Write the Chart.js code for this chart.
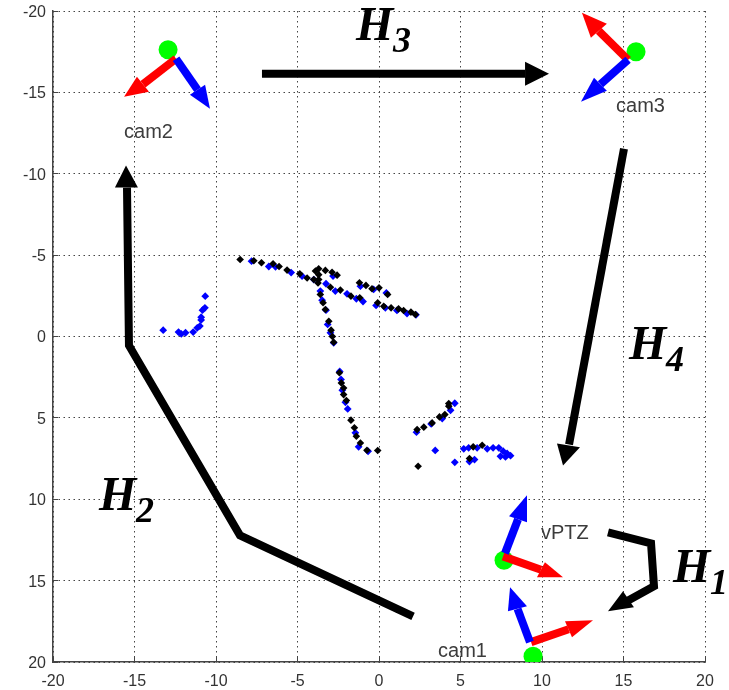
<!DOCTYPE html>
<html>
<head>
<meta charset="utf-8">
<style>html,body{margin:0;padding:0;background:#fff}canvas{display:block}</style>
<script src="https://cdn.jsdelivr.net/npm/chart.js@4"></script>
</head>
<body>
<canvas id="c" width="729" height="690"></canvas>
<script>
// Scene points in world units (x, y)
const bluePoints = [[-10.66,-2.48],[-10.68,-1.76],[-10.83,-1.62],[-10.91,-1.19],[-10.91,-1.02],[-10.99,-0.64],[-11.15,-0.53],[-11.4,-0.27],[-11.87,-0.23],[-12.13,-0.16],[-12.3,-0.27],[-13.24,-0.39],
[-7.82,-4.63],[-6.76,-4.3],[-6.35,-4.28],[-5.39,-3.93],[-4.72,-3.71],[-4,-3.5],[-3.6,-2.79],[-3.25,-3.24],[-2.68,-2.79],[-1.96,-2.62],[-1.39,-2.32],[-0.98,-2.15],[-2.82,-3.71],[-1.14,-3.09],[-0.33,-2.89],[0.45,-2.68],[-0.18,-1.91],[0.39,-1.76],[1.1,-1.6],[1.72,-1.41],[2.27,-1.33],
[-3.49,-2.23],[-3.25,-1.62],[-3.15,-0.74],[-2.98,-0.23],[-2.78,0.39],[-2.41,2.15],[-2.33,2.64],[-2.25,3.3],[-2.06,4.04],[-1.92,4.45],[-1.45,5.92],[-1.25,6.78],[-0.67,7.05],
[2.3,5.88],[3.2,5.37],[3.88,5.04],[4.39,4.53],[4.65,4.1],[3.45,7],[4.65,7.73],[5.55,7.68],[5.86,7.56],[5.2,6.9],[5.5,6.84],[6.02,6.84],[6.64,6.9],[7,6.84],[7.35,6.84],[7.62,7.05],[7.86,7.19],[8.07,7.32],[7.45,7.36],[7.76,7.4]];
const blackPoints = [[-8.52,-4.73],[-7.68,-4.65],[-7.21,-4.53],[-6.5,-4.47],[-6.13,-4.3],[-5.64,-4.08],[-4.86,-3.85],[-4.41,-3.59],[-4,-3.5],[-3.7,-4.16],[-3.9,-4.02],[-3.29,-4.06],[-2.57,-3.77],[-2.88,-3.95],[-3.7,-3.8],[-3.7,-3.5],[-3.74,-3.29],
[-2.98,-3.03],[-2.37,-2.85],[-1.72,-2.48],[-1.18,-2.38],[-1.2,-3.3],[-0.8,-3.14],[-0.43,-2.93],[0,-2.99],[0.53,-2.58],[-0.08,-2.07],[0.29,-1.86],[0.74,-1.76],[1.2,-1.7],[1.51,-1.6],[1.96,-1.5],[2.23,-1.35],
[-3.6,-2.58],[-3.43,-2.07],[-3.29,-1.66],[-3.08,-0.94],[-2.94,-0.39],[-2.86,0],[-2.78,0.35],
[-2.43,2.23],[-2.31,2.85],[-2.17,3.16],[-2.17,3.57],[-2,3.93],[-1.72,5.14],[-1.51,5.61],[-1.39,6.13],[-1.14,6.54],[-0.74,6.99],[-0.08,7],
[2.34,5.72],[2.75,5.57],[3.26,5.31],[3.71,4.94],[4.04,4.8],[4.28,4.28],[4.28,4.12],[5.55,7.5],[5.78,6.78],[6.33,6.68],[2.4,7.97]];

// Camera centres
const cameraCentres = [[-12.94,-17.62],[15.77,-17.5],[7.67,13.75],[9.45,19.64]];

// Axis shafts: tail, head base
const redShafts = [[[-12.45,-17.07],[-14.48,-15.5]],[[15.28,-17],[13.48,-18.78]],[[7.61,13.51],[9.94,14.33]],[[9.33,18.78],[11.63,17.99]]];
const blueShafts = [[[-12.45,-17.07],[-11.13,-15.16]],[[15.28,-17],[13.59,-15.5]],[[7.73,13.32],[8.53,11.23]],[[9.26,18.78],[8.5,16.73]]];
// Axis heads: tip, corner, corner
const redHeads = [[[-15.64,-14.73],[-14.85,-15.96],[-14.11,-15.04]],[[12.45,-19.89],[13,-18.35],[13.98,-19.21]],[[11.29,14.79],[10.18,13.87],[9.69,14.79]],[[13.13,17.43],[11.41,17.5],[11.84,18.48]]];
const blueHeads = [[[-10.37,-14],[-11.6,-14.86],[-10.67,-15.47]],[[12.39,-14.43],[13.19,-15.9],[13.98,-15.1]],[[9.08,9.76],[7.98,11.05],[9.08,11.42]],[[8.04,15.41],[7.91,16.88],[9.08,16.57]]];

// Homography arrows
const transferPaths = [
  [[-7.18,-16.14],[8.96,-16.14]],
  [[15.03,-11.54],[11.66,6.63]],
  [[2.09,17.19],[-8.53,12.22],[-15.34,0.55],[-15.46,-9.15]],
  [[14.05,12.03],[16.69,12.71],[16.87,15.35],[15.09,16.33]]
];
const transferHeads = [
  [[10.43,-16.14],[8.96,-16.88],[8.96,-15.41]],
  [[11.29,7.92],[10.92,6.57],[12.33,6.81]],
  [[-15.52,-10.5],[-16.2,-9.15],[-14.79,-9.15]],
  [[14.05,16.88],[14.97,15.65],[15.64,16.64]]
];

const cameraNames = ['cam2','cam3','vPTZ','cam1'];
const cameraNameAnchors = [[-15.64,-12.2],[14.54,-13.81],[9.94,12.46],[3.62,19.71]];
const matrixDigits = ['3','2','4','1'];
const matrixAnchors = [[-1.41,-18.2],[-17.18,10.68],[15.34,1.41],[18.04,15.1]];

const tickValues = [-20,-15,-10,-5,0,5,10,15,20];

const xy = p => ({x:p[0], y:p[1]});
const line = (pts,color,width) => ({type:'scatter',data:pts.map(xy),showLine:true,borderColor:color,borderWidth:width,pointRadius:0,borderJoinStyle:'miter',borderCapStyle:'butt',tension:0,fill:false,clip:0});
const poly = (pts,color) => ({type:'scatter',data:pts.concat([pts[0]]).map(xy),showLine:true,borderColor:color,borderWidth:0,backgroundColor:color,pointRadius:0,tension:0,fill:'shape',clip:0});

const layers = [];
layers.push({type:'scatter',data:cameraCentres.map(xy),pointStyle:'circle',pointRadius:9.5,pointBackgroundColor:'#00ff00',pointBorderWidth:0,clip:0});
redShafts.forEach(s=>layers.push(line(s,'#ff0000',8)));
redHeads.forEach(s=>layers.push(poly(s,'#ff0000')));
blueShafts.forEach(s=>layers.push(line(s,'#0000ff',8)));
blueHeads.forEach(s=>layers.push(poly(s,'#0000ff')));
layers.push({type:'scatter',data:bluePoints.map(xy),pointStyle:'rectRot',pointRadius:3.9,pointBackgroundColor:'#0000ff',pointBorderWidth:0});
layers.push({type:'scatter',data:blackPoints.map(xy),pointStyle:'rectRot',pointRadius:3.8,pointBackgroundColor:'#000000',pointBorderWidth:0});
transferPaths.forEach(s=>layers.push(line(s,'#000000',8)));
transferHeads.forEach(s=>layers.push(poly(s,'#000000')));

const textPlugin = {
  id:'sceneText',
  afterDatasetsDraw(chart){
    const {ctx,scales:{x,y}} = chart;
    ctx.save();
    ctx.textBaseline='alphabetic';
    ctx.textAlign='left';
    ctx.fillStyle='#3c3c3c';
    ctx.font='20px "Liberation Sans"';
    cameraNames.forEach((t,i)=>{
      ctx.fillText(t,x.getPixelForValue(cameraNameAnchors[i][0]),y.getPixelForValue(cameraNameAnchors[i][1]));
    });
    ctx.fillStyle='#000';
    matrixDigits.forEach((d,i)=>{
      const px=x.getPixelForValue(matrixAnchors[i][0]), py=y.getPixelForValue(matrixAnchors[i][1]);
      ctx.font='italic bold 48px "Liberation Serif"';
      ctx.fillText('H',px,py);
      ctx.font='italic bold 36px "Liberation Serif"';
      ctx.fillText(d,px+37,py+12);
    });
    ctx.restore();
  }
};

const axisOpts = (fit) => ({
  type:'linear',min:-20,max:20,
  afterBuildTicks(s){s.ticks=tickValues.map(v=>({value:v}));},
  afterFit:fit,
  grid:{color:'#444',lineWidth:1,drawTicks:true,tickLength:-5,tickColor:'#444',tickWidth:1,tickBorderDash:[]},
  border:{display:true,color:'#444',width:1.5,dash:[1.5,3.5]},
  ticks:{color:'#333',font:{family:'"Liberation Sans"',size:16},autoSkip:false,maxRotation:0,includeBounds:true}
});
const xAxis = axisOpts(s=>{s.height=28;s.paddingLeft=0;s.paddingRight=0;});
xAxis.ticks.padding=15;
const yAxis = axisOpts(s=>{s.width=53;s.paddingTop=0;s.paddingBottom=0;});
yAxis.reverse=true;
yAxis.ticks.padding=12;
yAxis.ticks.labelOffset=1.5;

new Chart(document.getElementById('c'),{
  type:'scatter',
  data:{datasets:layers.slice().reverse()},
  options:{
    responsive:false,animation:false,
    layout:{padding:{left:0,right:24,top:11,bottom:0}},
    plugins:{legend:{display:false},tooltip:{enabled:false}},
    scales:{x:xAxis,y:yAxis}
  },
  plugins:[textPlugin]
});
</script>
</body>
</html>
